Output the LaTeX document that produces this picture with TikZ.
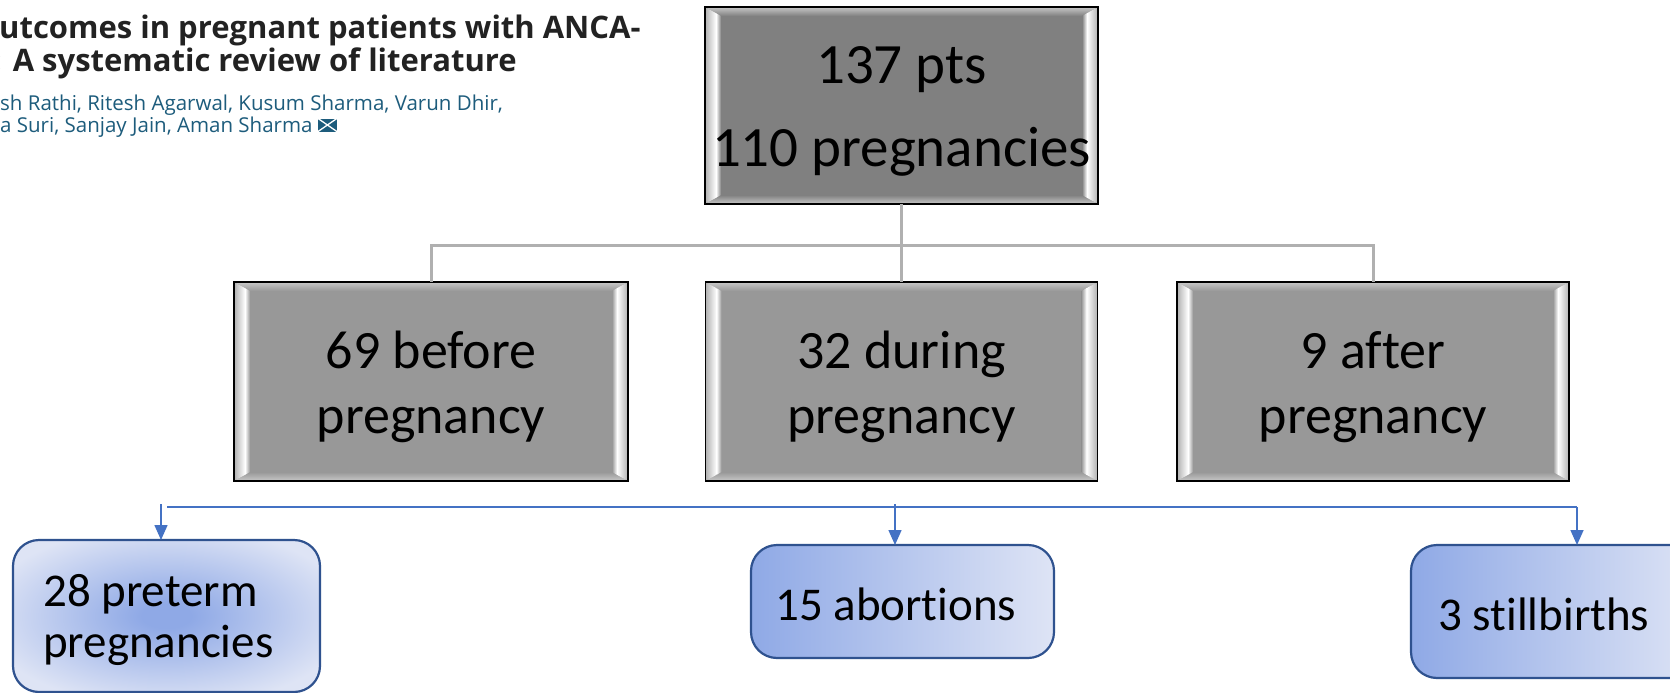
\documentclass[tikz,border=0pt]{standalone}
\usepackage{fontspec}
\setmainfont{Carlito}[Ligatures=NoCommon]
\newfontfamily\headfont{Open Sans}
\usetikzlibrary{calc,arrows.meta}

\definecolor{topgray}{HTML}{808080}
\definecolor{midgray}{HTML}{989898}
\definecolor{bevelout}{HTML}{B0B0B0}
\definecolor{beveltop}{HTML}{C8C8C8}
\definecolor{linkgray}{HTML}{B0B0B0}
\definecolor{arrowblue}{HTML}{4472C4}
\definecolor{edgeblue}{HTML}{2F528F}
\definecolor{deepfill}{HTML}{8FA9E6}
\definecolor{palefill}{HTML}{DEE4F5}
\definecolor{titleink}{HTML}{222222}
\definecolor{authorink}{HTML}{1D5C7C}

% soft blue glow, dark in the middle and pale towards the rim
\pgfdeclareradialshading{blueglow}{\pgfpoint{0bp}{0bp}}{%
  color(0bp)=(deepfill); color(4bp)=(deepfill);
  color(30bp)=(palefill); color(50bp)=(palefill)}

% bevelled frame on a grey box: #1 node name, #2 its fill colour
\newcommand\bevelframe[2]{%
  \path[top color=beveltop, bottom color=#2]
    (#1.north west) -- (#1.north east) -- ($(#1.north east)+(-16,9)$) -- ($(#1.north west)+(16,9)$) -- cycle;
  \path[top color=#2, bottom color=beveltop]
    (#1.south west) -- (#1.south east) -- ($(#1.south east)+(-16,-9)$) -- ($(#1.south west)+(16,-9)$) -- cycle;
  % left side: grey rising to a white ridge, then falling to the face
  \path[left color=bevelout, right color=white]
    (#1.north west) -- (#1.south west) -- ($(#1.south west)+(11,-6.2)$) -- ($(#1.north west)+(11,6.2)$) -- cycle;
  \path[left color=white, right color=#2]
    ($(#1.north west)+(11,6.2)$) -- ($(#1.south west)+(11,-6.2)$) -- ($(#1.south west)+(16,-9)$) -- ($(#1.north west)+(16,9)$) -- cycle;
  % right side, mirrored
  \path[left color=white, right color=bevelout]
    (#1.north east) -- (#1.south east) -- ($(#1.south east)+(-11,-6.2)$) -- ($(#1.north east)+(-11,6.2)$) -- cycle;
  \path[left color=#2, right color=white]
    ($(#1.north east)+(-11,6.2)$) -- ($(#1.south east)+(-11,-6.2)$) -- ($(#1.south east)+(-16,-9)$) -- ($(#1.north east)+(-16,9)$) -- cycle;
  \draw[line width=1.6, black] (#1.north west) rectangle (#1.south east);
}

\tikzset{
  greybox/.style={rectangle, draw=black, line width=1.6, outer sep=0, inner sep=0},
  toptext/.style={font=\fontsize{57}{66}\selectfont, anchor=base, inner sep=0},
  midtext/.style={font=\fontsize{54}{62}\selectfont, anchor=base, inner sep=0},
  lowtext/.style={font=\fontsize{47}{54}\selectfont, anchor=base west, inner sep=0},
  bluebox/.style={rectangle, draw=edgeblue, line width=2.2, rounded corners=26, outer sep=0, inner sep=0},
  greylink/.style={draw=linkgray, line width=3},
  bluelink/.style={draw=arrowblue, line width=1.5},
  bluearrow/.style={bluelink, -{Triangle[width=13pt,length=15pt]}},
  titletext/.style={font=\headfont\bfseries\fontsize{31}{36}\selectfont, text=titleink, anchor=base west, inner sep=0},
  authortext/.style={font=\headfont\fontsize{20.5}{24}\selectfont, text=authorink, anchor=base west, inner sep=0},
}

\begin{document}
\begin{tikzpicture}[x=1pt, y=-1pt]
\useasboundingbox (0,0) rectangle (1670,693);
\clip (0,0) rectangle (1670,693);
\fill[white] (0,0) rectangle (1670,693);

% article header
\node[titletext] (title1) at (-1,39) {utcomes in pregnant patients with ANCA-};
\node[titletext] (title2) at (-7,71) {: A systematic review of literature};
\node[authortext] (auth1) at (0,110) {sh Rathi, Ritesh Agarwal, Kusum Sharma, Varun Dhir,};
\node[authortext] (auth2) at (0,132) {a Suri, Sanjay Jain, Aman Sharma};
% mail icon
\node[rectangle, fill=authorink, minimum width=19, minimum height=13, inner sep=0, anchor=west] (mail) at ($(auth2.base east)+(5,-7)$) {};
\draw[white, line width=1.3] (mail.north west) -- (mail.south east) (mail.south west) -- (mail.north east);

% top box
\node[greybox, fill=topgray, minimum width=393, minimum height=197] (root) at (901.5,105.5) {};
\bevelframe{root}{topgray}
\node[toptext] (root1) at (901.5,83) {137 pts};
\node[toptext] (root2) at (901.5,166) {110 pregnancies};

% timing boxes
\node[greybox, fill=midgray, minimum width=394, minimum height=199] (before) at (431,381.5) {};
\node[greybox, fill=midgray, minimum width=392, minimum height=199] (during) at (901.5,381.5) {};
\node[greybox, fill=midgray, minimum width=392, minimum height=199] (after) at (1373,381.5) {};
\bevelframe{before}{midgray}
\bevelframe{during}{midgray}
\bevelframe{after}{midgray}
\node[midtext] (before1) at (431,368) {69 before};
\node[midtext] (before2) at (431,433) {pregnancy};
\node[midtext] (during1) at (901.5,368) {32 during};
\node[midtext] (during2) at (901.5,433) {pregnancy};
\node[midtext] (after1) at (1373,368) {9 after};
\node[midtext] (after2) at (1373,433) {pregnancy};

% grey tree links
\coordinate (hub) at (901.5,245);
\draw[greylink] (root.south) -- (hub);
\draw[greylink] (hub) -| (before.north);
\draw[greylink] (hub) -- (during.north);
\draw[greylink] (hub) -| (after.north);

% outcome boxes
\node[bluebox, shading=blueglow, minimum width=307, minimum height=152] (preterm) at (166.5,616) {};
\node[bluebox, left color=deepfill, right color=palefill, minimum width=303, minimum height=113] (abort) at (902.5,601.5) {};
\node[bluebox, left color=deepfill, right color=palefill, minimum width=289, minimum height=133] (still) at (1555.5,611.5) {};
\node[lowtext] (preterm1) at (43,606) {28 preterm};
\node[lowtext] (preterm2) at (43,657) {pregnancies};
\node[lowtext] (abort1) at (775,620) {15 abortions};
\node[lowtext] (still1) at (1438,630) {3 stillbirths};

% blue outcome links
\coordinate (busA) at (167,507);
\coordinate (busB) at (1577,507);
\coordinate (dropL) at (161,504);
\coordinate (dropM) at (895,504);
\draw[bluelink] (busA) -- (busB);
\draw[bluearrow] (dropL) -- (dropL |- preterm.north);
\draw[bluearrow] (dropM) -- (dropM |- abort.north);
\draw[bluearrow] (busB) -- (busB |- still.north);
\end{tikzpicture}
\end{document}
